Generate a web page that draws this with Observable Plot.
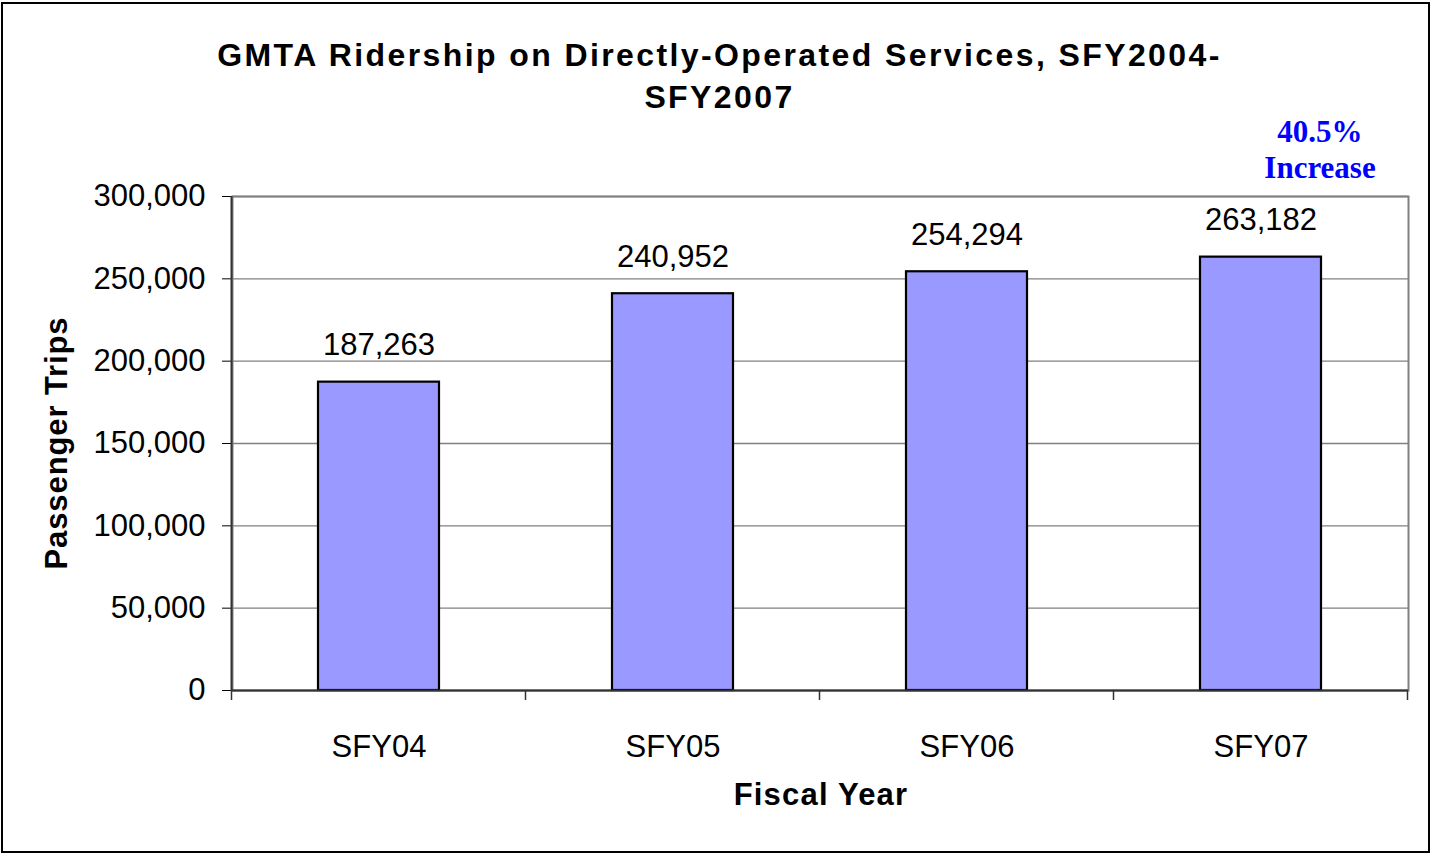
<!DOCTYPE html>
<html>
<head>
<meta charset="utf-8">
<script src="https://cdn.jsdelivr.net/npm/d3@7"></script>
<script src="https://cdn.jsdelivr.net/npm/@observablehq/plot@0.6"></script>
<style>
  html, body { margin: 0; padding: 0; background: #fff; }
  #wrap { position: relative; width: 1430px; height: 853px; overflow: hidden; font-family: "Liberation Sans", Arial, sans-serif; }
  #border { position: absolute; left: 1px; top: 2px; width: 1425px; height: 847px; border: 2px solid #000; box-sizing: content-box; }
  #chart { position: absolute; left: 0; top: 0; }
  .lbl { position: absolute; white-space: nowrap; color: #000; }
  #title { left: 0; width: 1439px; top: 34px; text-align: center; font-weight: bold; font-size: 32px; letter-spacing: 2.4px; line-height: 42px; }
  #ylabel { left: 57px; top: 443px; transform: translate(-50%, -50%) rotate(-90deg); font-weight: bold; font-size: 31px; letter-spacing: 0.9px; }
  #xlabel { left: 821px; top: 795px; transform: translate(-50%, -50%); font-weight: bold; font-size: 31px; letter-spacing: 1.2px; }
  #note { left: 1320px; top: 150px; transform: translate(-50%, -50%); text-align: center; font-family: "Liberation Serif", "Times New Roman", serif; font-weight: bold; font-size: 31px; line-height: 36px; color: #0000FF; }
</style>
</head>
<body>
<div id="wrap">
  <div id="chart"></div>
  <div id="border"></div>
  <div class="lbl" id="title">GMTA Ridership on Directly-Operated Services, SFY2004-<br>SFY2007</div>
  <div class="lbl" id="ylabel">Passenger Trips</div>
  <div class="lbl" id="xlabel">Fiscal Year</div>
  <div class="lbl" id="note">40.5%<br>Increase</div>
</div>
<script>
const categories = ["SFY04", "SFY05", "SFY06", "SFY07"];
const ridership = [187263, 240952, 254294, 263182];
const yTicks = [0, 50000, 100000, 150000, 200000, 250000, 300000];

const data = categories.map((c, i) => ({cat: c, value: ridership[i]}));
const fmt = d3.format(",");

const plot = Plot.plot({
  width: 1430,
  height: 853,
  marginLeft: 232,
  marginRight: 22,
  marginTop: 196,
  marginBottom: 163,
  style: {fontFamily: "'Liberation Sans', Arial, sans-serif", fontSize: "31px", color: "#000", background: "transparent", overflow: "visible"},
  x: {domain: categories, paddingInner: 0.588, paddingOuter: 0.294, label: null, axis: null},
  y: {domain: [0, 300000], label: null, axis: null},
  marks: [
    Plot.frame({stroke: "#808080", strokeWidth: 2}),
    Plot.gridY(yTicks, {stroke: "#808080", strokeOpacity: 1, strokeWidth: 1.3}),
    Plot.axisY(yTicks, {tickFormat: fmt, tickSize: 10, tickPadding: 17, fontSize: 31, label: null, stroke: "#000"}),
    Plot.barY(data, {x: "cat", y: "value", fill: "#9999FF", stroke: "#000", strokeWidth: 2.2}),
    Plot.text(data, {x: "cat", y: "value", text: d => fmt(d.value), dy: -37, fontSize: 31, fill: "#000"}),
    Plot.axisX({tickSize: 0, tickPadding: 44, fontSize: 31, label: null}),
    Plot.ruleY([0], {stroke: "#333", strokeWidth: 2})
  ]
});

document.getElementById("chart").appendChild(plot);

// axis line on left and boundary ticks on x, derived from the plot's scales
const xs = plot.scale("x");
const ys = plot.scale("y");
const svg = d3.select(plot);
const y0 = ys.apply(0), yTop = ys.apply(300000);
const bounds = categories.map(c => xs.apply(c) + xs.bandwidth / 2 - xs.step / 2);
bounds.push(bounds[bounds.length - 1] + xs.step);
svg.append("line")
  .attr("x1", bounds[0]).attr("x2", bounds[0])
  .attr("y1", yTop).attr("y2", y0 + 1)
  .attr("stroke", "#333").attr("stroke-width", 2);
svg.selectAll("line.xb").data(bounds).join("line")
  .attr("class", "xb")
  .attr("x1", d => d).attr("x2", d => d)
  .attr("y1", y0).attr("y2", y0 + 10)
  .attr("stroke", "#333").attr("stroke-width", 1.5);
</script>
</body>
</html>
